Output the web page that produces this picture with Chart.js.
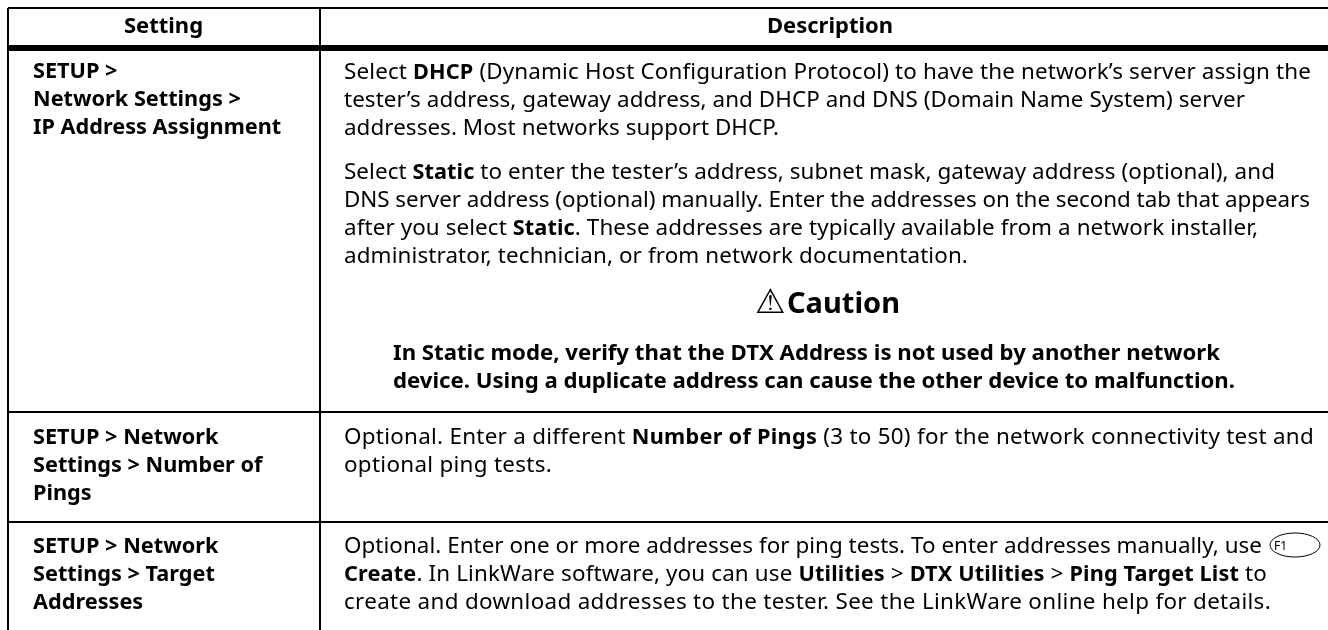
<!DOCTYPE html>
<html>
<head>
<meta charset="utf-8">
<title>Network settings</title>
<style>
  html, body { margin: 0; padding: 0; background: #fff; }
  #wrap { width: 1328px; height: 630px; }
</style>
<script src="https://cdn.jsdelivr.net/npm/chart.js@4/dist/chart.umd.min.js"></script>
</head>
<body>
<div id="wrap"><canvas id="tabela"></canvas></div>
<script>
// table contents, ** marks bold runs
const headers = ['Setting', 'Description'];
const settingRows = [
    ['SETUP >', 'Network Settings >', 'IP Address Assignment'],
    ['SETUP > Network', 'Settings > Number of', 'Pings'],
    ['SETUP > Network', 'Settings > Target', 'Addresses']
];
const dhcpLines = [
    'Select **DHCP** (Dynamic Host Configuration Protocol) to have the network’s server assign the',
    'tester’s address, gateway address, and DHCP and DNS (Domain Name System) server',
    'addresses. Most networks support DHCP.'
];
const staticLines = [
    'Select **Static** to enter the tester’s address, subnet mask, gateway address (optional), and',
    'DNS server address (optional) manually. Enter the addresses on the second tab that appears',
    'after you select **Static**. These addresses are typically available from a network installer,',
    'administrator, technician, or from network documentation.'
];
const cautionTitle = 'Caution';
const cautionLines = [
    '**In Static mode, verify that the DTX Address is not used by another network**',
    '**device. Using a duplicate address can cause the other device to malfunction.**'
];
const pingLines = [
    'Optional. Enter a different **Number of Pings** (3 to 50) for the network connectivity test and',
    'optional ping tests.'
];
const targetLines = [
    'Optional. Enter one or more addresses for ping tests. To enter addresses manually, use',
    '**Create**. In LinkWare software, you can use **Utilities** > **DTX Utilities** > **Ping Target List** to',
    'create and download addresses to the tester. See the LinkWare online help for details.'
];

// where each line ends in the reference, the font is not the same so lines get fitted
const dhcpEnds = [1311, 1245, 779];
const staticEnds = [1275, 1310, 1258, 968];
const cautionEnds = [1220, 1235];
const pingEnds = [1314, 552];
const targetEnds = [1262, 1267, 1271];

// rules of the table, in px from the page corner
const columnEdges = [7.5, 320];
const rowEdges = [8, 48, 412, 522];
const ruleWidths = { 8: 2, 48: 6, 412: 2, 522: 2 };

const FONT = '"Noto Sans"';
const SIZE = 22.4;
const BOLD_SIZE = 21.7;
const CAUTION_SIZE = 22.2;
const LINE = 28.2;

function drawRuns(ctx, text, x, y, boldSize, endX) {
    const runs = text.split('**');
    const fontOf = i => (i % 2 ? 'bold ' + boldSize + 'px ' : SIZE + 'px ') + FONT;
    let spacing = 0;
    if (endX) {
        let natural = 0;
        runs.forEach((run, i) => {
            ctx.font = fontOf(i);
            natural += ctx.measureText(run).width;
        });
        spacing = (endX - x - natural) / runs.join('').length;
    }
    ctx.letterSpacing = spacing + 'px';
    runs.forEach((run, i) => {
        ctx.font = fontOf(i);
        ctx.fillText(run, x, y);
        x += ctx.measureText(run).width;
    });
    ctx.letterSpacing = '0px';
}

const tableText = {
    id: 'tableText',
    afterDraw(chart) {
        const ctx = chart.ctx;
        const sx = v => chart.scales.x.getPixelForValue(v);
        const sy = v => chart.scales.y.getPixelForValue(v);
        const block = (lines, x, y, ends, boldSize) => lines.forEach((l, i) =>
            drawRuns(ctx, l, sx(x), sy(y + i * LINE), boldSize || BOLD_SIZE, ends ? sx(ends[i]) : 0));
        const bold = lines => lines.map(l => '**' + l + '**');

        ctx.save();
        ctx.fillStyle = '#000';
        ctx.textBaseline = 'alphabetic';

        ctx.textAlign = 'center';
        ctx.font = 'bold 22px ' + FONT;
        ctx.fillText(headers[0], sx(163.5), sy(33));
        ctx.fillText(headers[1], sx(830), sy(33));
        ctx.textAlign = 'left';

        block(bold(settingRows[0]), 33, 78);
        block(bold(settingRows[1]), 33, 444);
        block(bold(settingRows[2]), 33, 553);

        block(dhcpLines, 344, 78.5, dhcpEnds);
        block(staticLines, 344, 178.5, staticEnds);

        // warning sign is the DejaVu glyph
        ctx.font = 'bold 34px "DejaVu Sans"';
        ctx.fillText('\u26A0', sx(755), sy(313));
        ctx.font = 'bold 29px ' + FONT;
        ctx.fillText(cautionTitle, sx(787), sy(313));

        block(cautionLines, 393, 359.5, cautionEnds, CAUTION_SIZE);
        block(pingLines, 344, 444, pingEnds);
        block(targetLines, 344, 553, targetEnds);

        // F1 key after the first line of the last row
        ctx.lineWidth = 1;
        ctx.strokeStyle = '#000';
        ctx.beginPath();
        ctx.ellipse(sx(1295), sy(545), 25, 12, 0, 0, Math.PI * 2);
        ctx.stroke();
        ctx.font = '12px ' + FONT;
        ctx.fillText('F1', sx(1274), sy(550));
        ctx.restore();
    }
};

const hiddenTicks = { display: false };

new Chart(document.getElementById('tabela'), {
    type: 'scatter',
    data: { datasets: [{ data: [] }] },
    plugins: [tableText],
    options: {
        responsive: true,
        maintainAspectRatio: false,
        animation: false,
        layout: { padding: { left: 7.5, top: 8 } },
        plugins: { legend: { display: false }, tooltip: { enabled: false }, title: { display: false } },
        scales: {
            x: {
                type: 'linear', min: 7.5, max: 1328,
                ticks: hiddenTicks, border: { display: false },
                afterBuildTicks: s => { s.ticks = columnEdges.map(v => ({ value: v })); },
                grid: { color: '#000', lineWidth: 2, drawTicks: false }
            },
            y: {
                type: 'linear', min: 8, max: 630, reverse: true,
                ticks: hiddenTicks, border: { display: false },
                afterBuildTicks: s => { s.ticks = rowEdges.map(v => ({ value: v })); },
                grid: {
                    color: '#000', drawTicks: false,
                    lineWidth: c => (c.tick ? ruleWidths[c.tick.value] : 2)
                }
            }
        }
    }
});
</script>
</body>
</html>
